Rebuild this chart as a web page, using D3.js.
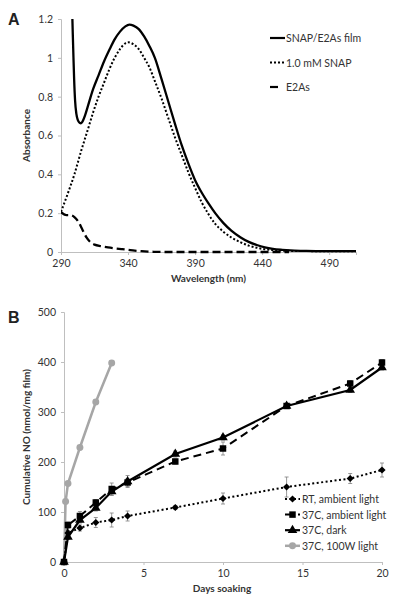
<!DOCTYPE html>
<html>
<head>
<meta charset="utf-8">
<script src="https://cdn.jsdelivr.net/npm/d3@7/dist/d3.min.js"></script>
<style>
  html, body { margin: 0; padding: 0; background: #fff; }
  svg { display: block; font-family: Lato, "Open Sans", "Liberation Sans", sans-serif; }
</style>
</head>
<body>
<svg id="chart" width="400" height="605"></svg>
<script>
// ---------- Panel A data ----------
const filmWl  = [298.3, 298.8, 299.3, 299.8, 300.5, 301.5, 302.5, 303.5, 304.7, 306, 308, 310, 314, 318, 322, 326, 330, 334, 338, 341, 344, 348, 352, 356, 360, 365, 370, 375, 380, 385, 390, 395, 400, 405, 411, 417, 424, 430, 436, 442, 448, 455, 461, 470, 480, 490, 510];
const filmAbs = [1.25, 1.12, 1.0, 0.89, 0.78, 0.71, 0.68, 0.668, 0.663, 0.672, 0.705, 0.75, 0.84, 0.91, 0.98, 1.04, 1.095, 1.135, 1.162, 1.171, 1.166, 1.148, 1.11, 1.06, 1.0, 0.89, 0.775, 0.66, 0.55, 0.455, 0.37, 0.305, 0.25, 0.2, 0.15, 0.11, 0.075, 0.052, 0.036, 0.024, 0.016, 0.011, 0.008, 0.006, 0.005, 0.004, 0.004];

const snapWl  = [290, 295, 300, 305, 310, 314, 318, 322, 326, 330, 334, 338, 340, 344, 348, 352, 356, 360, 365, 370, 375, 380, 385, 390, 395, 400, 405, 411, 417, 424, 430, 436, 442, 450, 460, 470, 490, 510];
const snapAbs = [0.207, 0.3, 0.4, 0.52, 0.63, 0.72, 0.8, 0.87, 0.94, 1.0, 1.045, 1.075, 1.08, 1.07, 1.045, 1.0, 0.95, 0.88, 0.79, 0.69, 0.59, 0.5, 0.41, 0.33, 0.255, 0.195, 0.145, 0.105, 0.075, 0.05, 0.033, 0.022, 0.014, 0.009, 0.006, 0.005, 0.004, 0.004];

const e2aWl  = [290, 294, 297, 300, 303, 306, 309, 312, 315, 320, 325, 330, 335, 340, 345, 350, 355, 360, 370, 460];
const e2aAbs = [0.205, 0.19, 0.19, 0.18, 0.155, 0.115, 0.075, 0.05, 0.038, 0.03, 0.024, 0.019, 0.015, 0.011, 0.007, 0.004, 0.002, 0.001, 0, 0];

const aXTicks = [290, 340, 390, 440, 490];
const aYTicks = [0, 0.2, 0.4, 0.6, 0.8, 1, 1.2];
const aLegend = ["SNAP/E2As film", "1.0 mM SNAP", "E2As"];

// ---------- Panel B data ----------
const daysRT   = [0, 0.25, 1, 2, 3, 4, 7, 10, 14, 18, 20];
const noRT     = [0, 58, 68, 79, 84, 92, 109, 127, 150, 167, 184];
const errRT    = [0, 5, 6, 10, 14, 10, 4, 11, 20, 10, 14];

const days37A  = [0, 0.25, 1, 2, 3, 4, 7, 10, 14, 18, 20];
const no37A    = [0, 74, 92, 119, 146, 159, 201, 227, 312, 357, 399];
const err37A   = [0, 6, 9, 6, 12, 8, 5, 13, 5, 6, 6];

const days37D  = [0, 0.25, 1, 2, 3, 4, 7, 10, 14, 18, 20];
const no37D    = [0, 50, 84, 108, 141, 161, 216, 249, 312, 344, 389];
const err37D   = [0, 5, 6, 6, 8, 12, 6, 5, 5, 5, 5];

const days100W = [0, 0.1, 0.25, 1, 2, 3];
const no100W   = [0, 121, 157, 229, 320, 398];

const bXTicks = [0, 5, 10, 15, 20];
const bYTicks = [0, 100, 200, 300, 400, 500];
const bLegend = ["RT, ambient light", "37C, ambient light", "37C, dark", "37C, 100W light"];

// ---------- drawing ----------
const svg = d3.select("#chart");
const axisColor = "#bfbfbf";
const textColor = "#333";

function styleAxis(g) {
  g.select(".domain").attr("stroke", axisColor).attr("stroke-width", 1);
  g.selectAll(".tick line").attr("stroke", axisColor);
  g.selectAll(".tick text").attr("fill", textColor).style("font-size", "10.5px")
    .style("font-family", "Lato, 'Open Sans', sans-serif");
}

// ===== Panel A =====
const xA = d3.scaleLinear().domain([290, 510]).range([61, 356]);
const yA = d3.scaleLinear().domain([0, 1.2]).range([252, 19]);

svg.append("defs").append("clipPath").attr("id", "clipA")
  .append("rect").attr("x", xA(290)).attr("y", yA(1.2)).attr("width", xA(510) - xA(290)).attr("height", yA(0) - yA(1.2) + 2);

const gAx = svg.append("g").attr("transform", `translate(0,${yA(0)})`)
  .call(d3.axisBottom(xA).tickValues(aXTicks).tickSize(3).tickPadding(5).tickFormat(d3.format("d")));
styleAxis(gAx);
const gAy = svg.append("g").attr("transform", `translate(${xA(290)},0)`)
  .call(d3.axisLeft(yA).tickValues(aYTicks).tickSize(3).tickPadding(5).tickFormat(d => d3.format("~g")(d)));
styleAxis(gAy);

const lineA = (xs, ys) => d3.line().curve(d3.curveMonotoneX)
  .x((d, i) => xA(xs[i])).y((d, i) => yA(ys[i]))(xs);

const plotA = svg.append("g").attr("clip-path", "url(#clipA)");
plotA.append("path").attr("d", lineA(e2aWl, e2aAbs)).attr("fill", "none")
  .attr("stroke", "#000").attr("stroke-width", 2.3).attr("stroke-dasharray", "8,4");
plotA.append("path").attr("d", lineA(snapWl, snapAbs)).attr("fill", "none")
  .attr("stroke", "#000").attr("stroke-width", 2).attr("stroke-dasharray", "2,2");
plotA.append("path").attr("d", lineA(filmWl, filmAbs)).attr("fill", "none")
  .attr("stroke", "#000").attr("stroke-width", 2.3);

// legend A
const legA = svg.append("g");
const legAStyles = [{dash: null}, {dash: "2,2"}, {dash: "8,8"}];
aLegend.forEach((name, i) => {
  const cy = 38 + i * 24.5;
  legA.append("line").attr("x1", 270).attr("x2", 285).attr("y1", cy).attr("y2", cy)
    .attr("stroke", "#000").attr("stroke-width", 2.2)
    .attr("stroke-dasharray", legAStyles[i].dash);
  legA.append("text").attr("x", 286).attr("y", cy + 4).text(name)
    .attr("fill", textColor).style("font-size", "10.5px");
});

// axis labels A
svg.append("text").attr("x", (xA(290) + xA(510)) / 2).attr("y", 282).attr("text-anchor", "middle")
  .style("font-size", "10px").style("font-weight", "bold").attr("fill", textColor).text("Wavelength (nm)");
svg.append("text").attr("transform", `translate(30,${(yA(0) + yA(1.2)) / 2}) rotate(-90)`)
  .attr("text-anchor", "middle").style("font-size", "10px").style("font-weight", "bold")
  .attr("fill", textColor).text("Absorbance");
svg.append("text").attr("x", 8).attr("y", 25).style("font-size", "16px").style("font-weight", "bold")
  .style("font-family", "'Liberation Sans', Arial, sans-serif").attr("fill", "#222").text("A");

// ===== Panel B =====
const xB = d3.scaleLinear().domain([0, 20]).range([64, 382]);
const yB = d3.scaleLinear().domain([0, 500]).range([562, 312]);

const gBx = svg.append("g").attr("transform", `translate(0,${yB(0)})`)
  .call(d3.axisBottom(xB).tickValues(bXTicks).tickSize(3).tickPadding(5));
styleAxis(gBx);
const gBy = svg.append("g").attr("transform", `translate(${xB(0)},0)`)
  .call(d3.axisLeft(yB).tickValues(bYTicks).tickSize(3).tickPadding(5));
styleAxis(gBy);

const lineB = (xs, ys) => d3.line().x((d, i) => xB(xs[i])).y((d, i) => yB(ys[i]))(xs);

function errorBars(xs, ys, es) {
  const g = svg.append("g").attr("stroke", "#7f7f7f").attr("stroke-width", 0.8);
  xs.forEach((x, i) => {
    if (!es[i]) return;
    const px = xB(x), y1 = yB(ys[i] - es[i]), y2 = yB(ys[i] + es[i]);
    g.append("line").attr("x1", px).attr("x2", px).attr("y1", y1).attr("y2", y2);
    g.append("line").attr("x1", px - 2).attr("x2", px + 2).attr("y1", y1).attr("y2", y1);
    g.append("line").attr("x1", px - 2).attr("x2", px + 2).attr("y1", y2).attr("y2", y2);
  });
}
errorBars(daysRT, noRT, errRT);
errorBars(days37A, no37A, err37A);
errorBars(days37D, no37D, err37D);

// series lines
svg.append("path").attr("d", lineB(days100W, no100W)).attr("fill", "none")
  .attr("stroke", "#a6a6a6").attr("stroke-width", 2.5);
svg.append("path").attr("d", lineB(daysRT, noRT)).attr("fill", "none")
  .attr("stroke", "#000").attr("stroke-width", 2).attr("stroke-dasharray", "2,2.5");
svg.append("path").attr("d", lineB(days37A, no37A)).attr("fill", "none")
  .attr("stroke", "#000").attr("stroke-width", 2).attr("stroke-dasharray", "8,5");
svg.append("path").attr("d", lineB(days37D, no37D)).attr("fill", "none")
  .attr("stroke", "#000").attr("stroke-width", 2.2);

// markers
const symDiamond = d3.symbol().type(d3.symbolSquare).size(26);
const symSquare = d3.symbol().type(d3.symbolSquare).size(42);
const symTri = d3.symbol().type(d3.symbolTriangle).size(40);
const symCircle = d3.symbol().type(d3.symbolCircle).size(38);

function markers(xs, ys, sym, fill, rot) {
  svg.append("g").selectAll("path").data(xs).join("path")
    .attr("d", sym).attr("fill", fill)
    .attr("transform", (d, i) => `translate(${xB(d)},${yB(ys[i])}) rotate(${rot || 0})`);
}
markers(days100W, no100W, symCircle, "#a6a6a6");
markers(daysRT, noRT, symDiamond, "#000", 45);
markers(days37A, no37A, symSquare, "#000");
markers(days37D, no37D, symTri, "#000");

// legend B
const legB = svg.append("g");
const legBItems = [
  {dash: "2,2.5", color: "#000", sym: symDiamond, w: 2, rot: 45},
  {dash: "8,5", color: "#000", sym: symSquare, w: 2, rot: 0},
  {dash: null, color: "#000", sym: symTri, w: 2.2, rot: 0},
  {dash: null, color: "#a6a6a6", sym: symCircle, w: 2.5, rot: 0}
];
bLegend.forEach((name, i) => {
  const cy = 499 + i * 15.6;
  const it = legBItems[i];
  legB.append("line").attr("x1", 285).attr("x2", 300).attr("y1", cy).attr("y2", cy)
    .attr("stroke", it.color).attr("stroke-width", it.w).attr("stroke-dasharray", it.dash);
  legB.append("path").attr("d", it.sym).attr("fill", it.color)
    .attr("transform", `translate(292.5,${cy}) rotate(${it.rot})`);
  legB.append("text").attr("x", 302).attr("y", cy + 4).text(name)
    .attr("fill", textColor).style("font-size", "10.5px");
});

// axis labels B
svg.append("text").attr("x", (xB(0) + xB(20)) / 2 - 1).attr("y", 592).attr("text-anchor", "middle")
  .style("font-size", "10px").style("font-weight", "bold").attr("fill", textColor).text("Days soaking");
svg.append("text").attr("transform", `translate(30,${(yB(0) + yB(500)) / 2}) rotate(-90)`)
  .attr("text-anchor", "middle").style("font-size", "10px").style("font-weight", "bold")
  .attr("fill", textColor).text("Cumulative NO (nmol/mg film)");
svg.append("text").attr("x", 8).attr("y", 323).style("font-size", "16px").style("font-weight", "bold")
  .style("font-family", "'Liberation Sans', Arial, sans-serif").attr("fill", "#222").text("B");
</script>
</body>
</html>
